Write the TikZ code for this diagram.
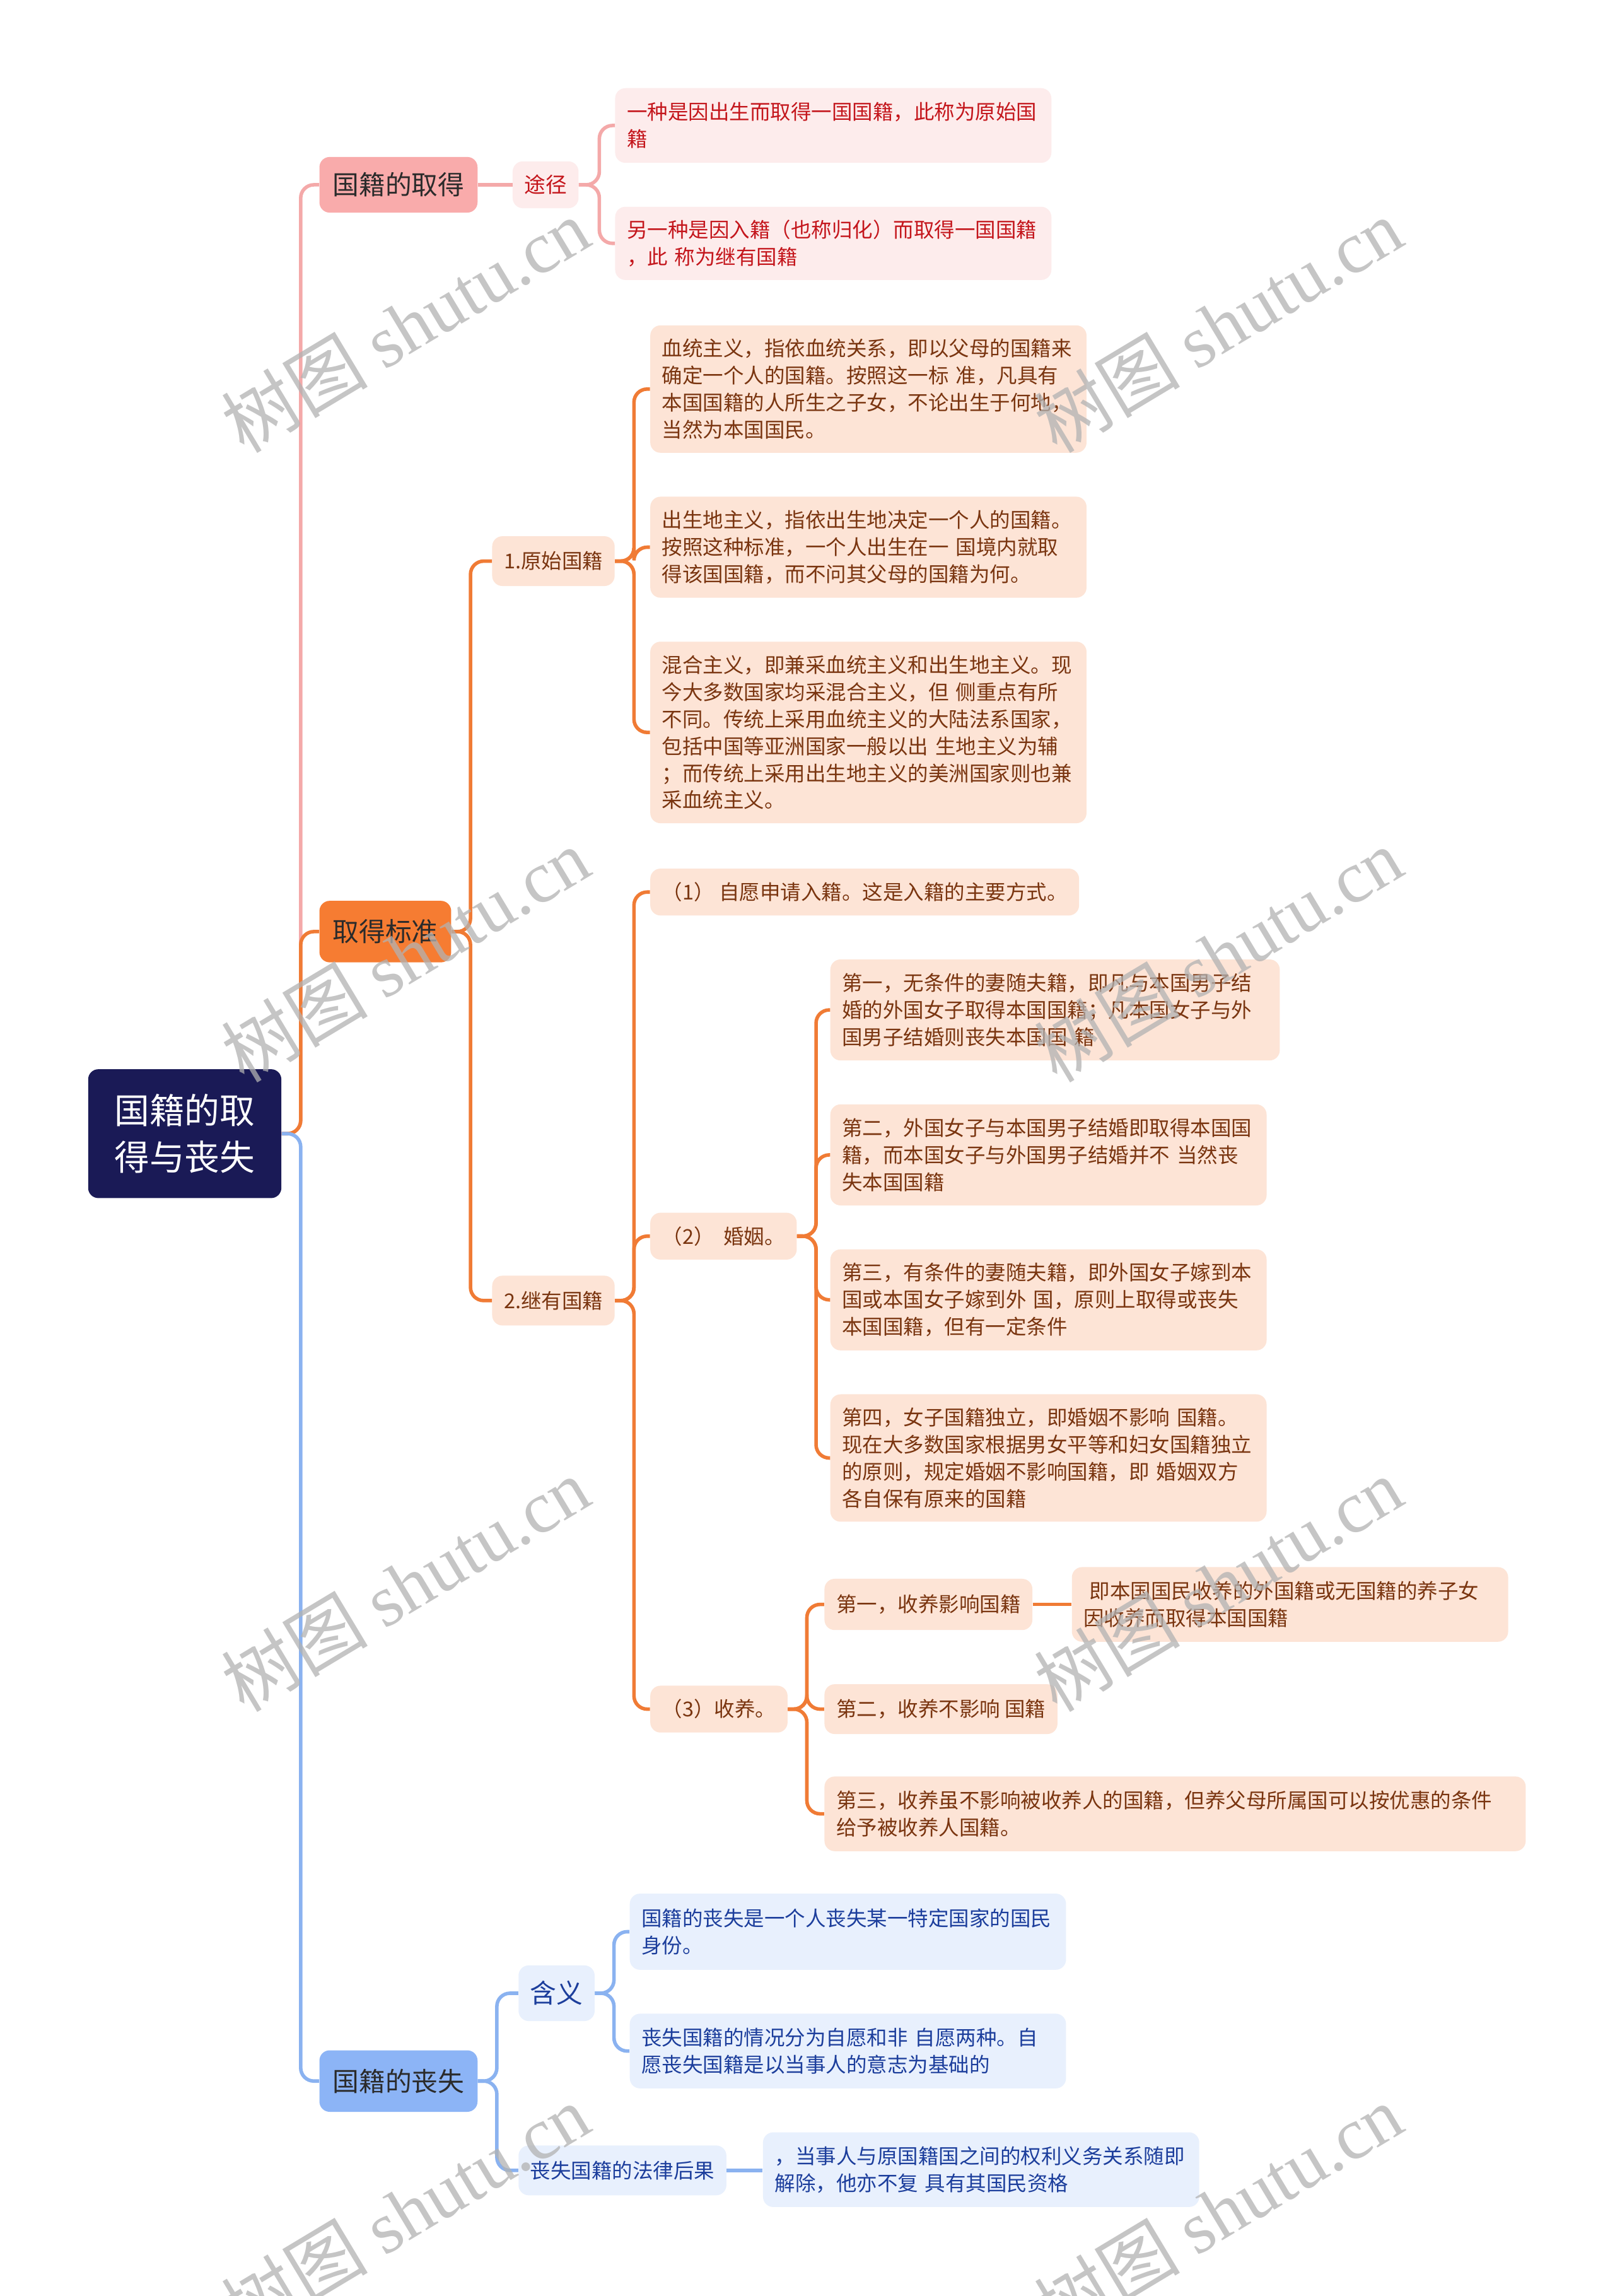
\documentclass[tikz,border=0pt]{standalone}
\usepackage{fontspec}
\setmainfont{Noto Sans CJK SC}
\newfontfamily\wmlat{Liberation Serif}
\definecolor{rootc}{HTML}{1A1A56}
\definecolor{pinkA}{HTML}{F9ABAB}
\definecolor{pinkB}{HTML}{FDECEC}
\definecolor{pinkT}{HTML}{C4161C}
\definecolor{pinkL}{HTML}{F4A9A9}
\definecolor{orA}{HTML}{F67C32}
\definecolor{orB}{HTML}{FDE4D6}
\definecolor{orT}{HTML}{7A3510}
\definecolor{orL}{HTML}{F07B35}
\definecolor{blA}{HTML}{8CB4F6}
\definecolor{blB}{HTML}{E8F0FD}
\definecolor{blT}{HTML}{1C3E9C}
\definecolor{blL}{HTML}{8AB2F0}
\definecolor{darkT}{HTML}{2B2B2B}
\tikzset{
  box/.style={rounded corners=7pt, anchor=north west, inner xsep=8pt, inner ysep=0pt, align=left},
  small/.style={font=\fontsize{14}{18.5}\selectfont},
  big/.style={font=\fontsize{18}{22}\selectfont, inner xsep=9pt},
  pinkbox/.style={box, small, fill=pinkB, text=pinkT},
  orbox/.style={box, small, fill=orB, text=orT},
  blbox/.style={box, small, fill=blB, text=blT},
  conn/.style={line width=2.4pt, rounded corners=9pt},
  wm/.style={rotate=31, text=black!30, opacity=0.75, font=\fontsize{50}{50}\selectfont}
}
\newcommand{\wmtext}{树图 {\wmlat shutu.cn}}
\begin{document}
\begin{tikzpicture}[x=1pt, y=-1pt]
\useasboundingbox[fill=white] (0,0) rectangle (1103,1568);

% root
\node[box, fill=rootc, text=white, align=center, minimum width=132pt, minimum height=88pt,
  font=\fontsize{24}{32}\selectfont] (root) at (60,730) {国籍的取\\得与丧失};

% level 1
\node[box, big, fill=pinkA, text=darkT, minimum height=38pt] (a1) at (218,107) {国籍的取得};
\node[box, big, fill=orA, text=darkT, minimum height=42pt] (a2) at (218,615) {取得标准};
\node[box, big, fill=blA, text=darkT, minimum height=42pt] (a3) at (218,1400) {国籍的丧失};

% branch 1
\node[pinkbox, minimum height=32pt, font=\fontsize{14.5}{18}\selectfont] (b1) at (350,110) {途径};
\node[pinkbox, minimum height=51pt, text width=282pt] (c1) at (420,60) {一种是因出生而取得一国国籍，此称为原始国\\籍};
\node[pinkbox, minimum height=50pt, text width=282pt] (c2) at (420,141) {另一种是因入籍（也称归化）而取得一国国籍\\，此 称为继有国籍};

% branch 2
\node[orbox, minimum height=34pt] (d1) at (336,366) {1.原始国籍};
\node[orbox, minimum height=34pt] (d2) at (336,871) {2.继有国籍};

\node[orbox, minimum height=87pt, text width=282pt] (e1) at (444,222) {血统主义，指依血统关系，即以父母的国籍来\\确定一个人的国籍。按照这一标 准，凡具有\\本国国籍的人所生之子女，不论出生于何地，\\当然为本国国民。};
\node[orbox, minimum height=69pt, text width=282pt] (e2) at (444,339) {出生地主义，指依出生地决定一个人的国籍。\\按照这种标准，一个人出生在一 国境内就取\\得该国国籍，而不问其父母的国籍为何。};
\node[orbox, minimum height=124pt, text width=282pt] (e3) at (444,438) {混合主义，即兼采血统主义和出生地主义。现\\今大多数国家均采混合主义，但 侧重点有所\\不同。传统上采用血统主义的大陆法系国家，\\包括中国等亚洲国家一般以出 生地主义为辅\\；而传统上采用出生地主义的美洲国家则也兼\\采血统主义。};

\node[orbox, minimum height=32pt] (f1) at (444,593) {（1） 自愿申请入籍。这是入籍的主要方式。};
\node[orbox, minimum height=32pt] (f2) at (444,828) {（2）\ \ 婚姻。};
\node[orbox, minimum height=32pt] (f3) at (444,1151) {（3）收养。};

\node[orbox, minimum height=69pt, text width=291pt] (g1) at (567,655) {第一，无条件的妻随夫籍，即凡与本国男子结\\婚的外国女子取得本国国籍；凡本国女子与外\\国男子结婚则丧失本国国 籍};
\node[orbox, minimum height=69pt, text width=282pt] (g2) at (567,754) {第二，外国女子与本国男子结婚即取得本国国\\籍，而本国女子与外国男子结婚并不 当然丧\\失本国国籍};
\node[orbox, minimum height=69pt, text width=282pt] (g3) at (567,853) {第三，有条件的妻随夫籍，即外国女子嫁到本\\国或本国女子嫁到外 国，原则上取得或丧失\\本国国籍，但有一定条件};
\node[orbox, minimum height=87pt, text width=282pt] (g4) at (567,952) {第四，女子国籍独立，即婚姻不影响 国籍。\\现在大多数国家根据男女平等和妇女国籍独立\\的原则，规定婚姻不影响国籍，即 婚姻双方\\各自保有原来的国籍};

\node[orbox, minimum height=35pt] (h1) at (563,1078) {第一，收养影响国籍};
\node[orbox, minimum height=34pt] (h2) at (563,1150) {第二，收养不影响 国籍};
\node[orbox, minimum height=51pt, text width=463pt] (h3) at (563,1213) {第三，收养虽不影响被收养人的国籍，但养父母所属国可以按优惠的条件\\给予被收养人国籍。};
\node[orbox, minimum height=51pt, text width=282pt] (i1) at (732,1070) {\hspace*{4pt}即本国国民收养的外国籍或无国籍的养子女\\因收养而取得本国国籍};

% branch 3
\node[blbox, minimum height=38pt, font=\fontsize{18}{22}\selectfont] (j1) at (354,1342) {含义};
\node[blbox, minimum height=34pt] (j2) at (354,1465) {丧失国籍的法律后果};
\node[blbox, minimum height=52pt, text width=282pt] (k1) at (430,1293) {国籍的丧失是一个人丧失某一特定国家的国民\\身份。};
\node[blbox, minimum height=51pt, text width=282pt] (k2) at (430,1375) {丧失国籍的情况分为自愿和非 自愿两种。自\\愿丧失国籍是以当事人的意志为基础的};
\node[blbox, minimum height=51pt, text width=282pt] (k3) at (521,1456) {，当事人与原国籍国之间的权利义务关系随即\\解除，他亦不复 具有其国民资格};

% connectors: trunk
\draw[conn, pinkL] (root.east) -- ++(13,0) |- (a1.west);
\draw[conn, orL] (root.east) -- ++(13,0) |- (a2.west);
\draw[conn, blL] (root.east) -- ++(13,0) |- (a3.west);

% branch 1
\draw[conn, pinkL] (a1.east) -- (b1.west);
\draw[conn, pinkL] (b1.east) -- ++(14,0) |- (c1.west);
\draw[conn, pinkL] (b1.east) -- ++(14,0) |- (c2.west);

% branch 2
\foreach \t in {d1,d2} \draw[conn, orL] (a2.east) -- ++(13,0) |- (\t.west);
\foreach \t in {e1,e2,e3} \draw[conn, orL] (d1.east) -- ++(13,0) |- (\t.west);
\foreach \t in {f1,f2,f3} \draw[conn, orL] (d2.east) -- ++(13,0) |- (\t.west);
\foreach \t in {g1,g2,g3,g4} \draw[conn, orL] (f2.east) -- ++(13,0) |- (\t.west);
\foreach \t in {h1,h2,h3} \draw[conn, orL] (f3.east) -- ++(13,0) |- (\t.west);
\draw[conn, orL] (h1.east) -- (h1.east -| i1.west);

% branch 3
\foreach \t in {j1,j2} \draw[conn, blL] (a3.east) -- ++(13,0) |- (\t.west);
\foreach \t in {k1,k2} \draw[conn, blL] (j1.east) -- ++(13,0) |- (\t.west);
\draw[conn, blL] (j2.east) -- (j2.east -| k3.west);

% watermarks
\foreach \px/\py [count=\i] in {277/222, 832/222, 277/652, 832/652, 277/1082, 832/1082, 277/1510, 832/1510}
  \node[wm] (wm\i) at (\px,\py) {\wmtext};
\end{tikzpicture}
\end{document}
